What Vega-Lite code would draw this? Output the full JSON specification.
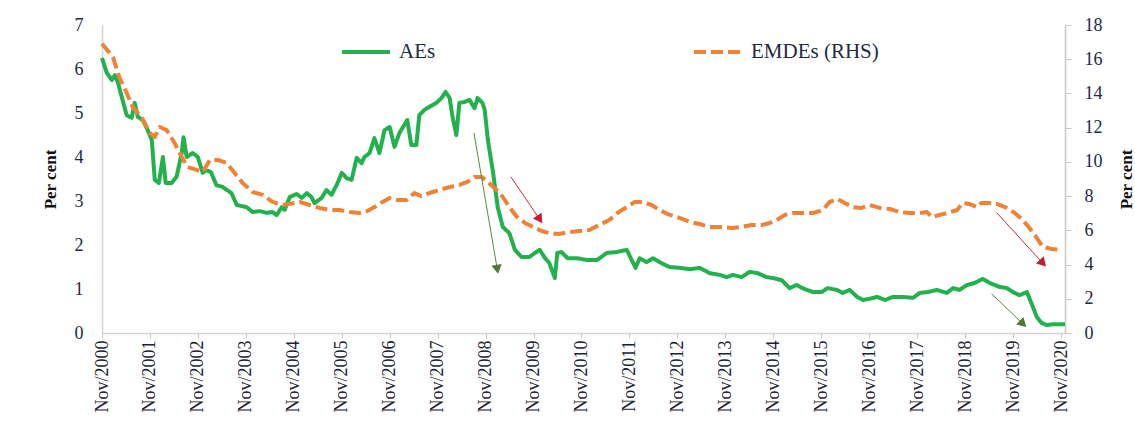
{
  "$schema": "https://vega.github.io/schema/vega-lite/v6.json",
  "autosize": {"type": "none"},
  "width": 963,
  "height": 308,
  "padding": {"left": 102, "top": 25, "right": 70, "bottom": 100},
  "background": "white",
  "config": {
    "font": "Liberation Serif",
    "view": {"stroke": null},
    "axis": {"grid": false, "labelFont": "Liberation Serif", "titleFont": "Liberation Serif", "labelColor": "#222a44", "titleColor": "#111111"}
  },
  "datasets": {
    "rates": [
      {"date": "2000-11-01", "series": "AEs", "value": 6.25},
      {"date": "2000-12-08", "series": "AEs", "value": 5.91},
      {"date": "2001-01-15", "series": "AEs", "value": 5.75},
      {"date": "2001-02-08", "series": "AEs", "value": 5.86},
      {"date": "2001-03-01", "series": "AEs", "value": 5.70},
      {"date": "2001-04-01", "series": "AEs", "value": 5.36},
      {"date": "2001-05-08", "series": "AEs", "value": 4.95},
      {"date": "2001-06-15", "series": "AEs", "value": 4.89},
      {"date": "2001-07-08", "series": "AEs", "value": 5.23},
      {"date": "2001-08-01", "series": "AEs", "value": 4.91},
      {"date": "2001-09-08", "series": "AEs", "value": 4.84},
      {"date": "2001-10-15", "series": "AEs", "value": 4.61},
      {"date": "2001-11-15", "series": "AEs", "value": 4.39},
      {"date": "2001-12-08", "series": "AEs", "value": 3.48},
      {"date": "2002-01-08", "series": "AEs", "value": 3.41},
      {"date": "2002-02-08", "series": "AEs", "value": 4.00},
      {"date": "2002-03-01", "series": "AEs", "value": 3.41},
      {"date": "2002-04-15", "series": "AEs", "value": 3.41},
      {"date": "2002-05-23", "series": "AEs", "value": 3.55},
      {"date": "2002-07-01", "series": "AEs", "value": 4.09},
      {"date": "2002-07-15", "series": "AEs", "value": 4.45},
      {"date": "2002-08-08", "series": "AEs", "value": 4.00},
      {"date": "2002-09-23", "series": "AEs", "value": 4.09},
      {"date": "2002-11-01", "series": "AEs", "value": 4.00},
      {"date": "2002-12-08", "series": "AEs", "value": 3.64},
      {"date": "2003-01-01", "series": "AEs", "value": 3.70},
      {"date": "2003-02-08", "series": "AEs", "value": 3.66},
      {"date": "2003-03-23", "series": "AEs", "value": 3.36},
      {"date": "2003-05-08", "series": "AEs", "value": 3.32},
      {"date": "2003-07-15", "series": "AEs", "value": 3.18},
      {"date": "2003-08-24", "series": "AEs", "value": 2.91},
      {"date": "2003-11-08", "series": "AEs", "value": 2.86},
      {"date": "2003-12-23", "series": "AEs", "value": 2.75},
      {"date": "2004-02-15", "series": "AEs", "value": 2.77},
      {"date": "2004-04-08", "series": "AEs", "value": 2.73},
      {"date": "2004-05-23", "series": "AEs", "value": 2.75},
      {"date": "2004-06-23", "series": "AEs", "value": 2.68},
      {"date": "2004-08-01", "series": "AEs", "value": 2.86},
      {"date": "2004-08-23", "series": "AEs", "value": 2.80},
      {"date": "2004-10-01", "series": "AEs", "value": 3.09},
      {"date": "2004-11-23", "series": "AEs", "value": 3.16},
      {"date": "2005-01-01", "series": "AEs", "value": 3.07},
      {"date": "2005-02-08", "series": "AEs", "value": 3.18},
      {"date": "2005-03-15", "series": "AEs", "value": 3.09},
      {"date": "2005-04-08", "series": "AEs", "value": 2.95},
      {"date": "2005-06-01", "series": "AEs", "value": 3.07},
      {"date": "2005-07-08", "series": "AEs", "value": 3.25},
      {"date": "2005-08-15", "series": "AEs", "value": 3.14},
      {"date": "2005-09-23", "series": "AEs", "value": 3.36},
      {"date": "2005-11-01", "series": "AEs", "value": 3.64},
      {"date": "2005-12-08", "series": "AEs", "value": 3.52},
      {"date": "2006-01-15", "series": "AEs", "value": 3.48},
      {"date": "2006-02-23", "series": "AEs", "value": 3.98},
      {"date": "2006-04-01", "series": "AEs", "value": 3.86},
      {"date": "2006-04-23", "series": "AEs", "value": 4.00},
      {"date": "2006-06-01", "series": "AEs", "value": 4.09},
      {"date": "2006-07-08", "series": "AEs", "value": 4.43},
      {"date": "2006-08-15", "series": "AEs", "value": 4.09},
      {"date": "2006-09-23", "series": "AEs", "value": 4.61},
      {"date": "2006-11-01", "series": "AEs", "value": 4.68},
      {"date": "2006-12-08", "series": "AEs", "value": 4.23},
      {"date": "2007-01-15", "series": "AEs", "value": 4.55},
      {"date": "2007-03-15", "series": "AEs", "value": 4.84},
      {"date": "2007-04-15", "series": "AEs", "value": 4.27},
      {"date": "2007-05-23", "series": "AEs", "value": 4.27},
      {"date": "2007-06-15", "series": "AEs", "value": 4.95},
      {"date": "2007-07-23", "series": "AEs", "value": 5.07},
      {"date": "2007-09-01", "series": "AEs", "value": 5.14},
      {"date": "2007-10-23", "series": "AEs", "value": 5.23},
      {"date": "2007-12-01", "series": "AEs", "value": 5.34},
      {"date": "2008-01-01", "series": "AEs", "value": 5.48},
      {"date": "2008-02-01", "series": "AEs", "value": 5.34},
      {"date": "2008-02-23", "series": "AEs", "value": 4.91},
      {"date": "2008-03-23", "series": "AEs", "value": 4.50},
      {"date": "2008-04-15", "series": "AEs", "value": 5.23},
      {"date": "2008-05-23", "series": "AEs", "value": 5.25},
      {"date": "2008-07-01", "series": "AEs", "value": 5.30},
      {"date": "2008-08-08", "series": "AEs", "value": 5.11},
      {"date": "2008-09-01", "series": "AEs", "value": 5.34},
      {"date": "2008-10-08", "series": "AEs", "value": 5.23},
      {"date": "2008-10-25", "series": "AEs", "value": 5.07},
      {"date": "2008-11-18", "series": "AEs", "value": 4.39},
      {"date": "2008-12-28", "series": "AEs", "value": 3.64},
      {"date": "2009-02-01", "series": "AEs", "value": 2.86},
      {"date": "2009-03-12", "series": "AEs", "value": 2.41},
      {"date": "2009-05-01", "series": "AEs", "value": 2.27},
      {"date": "2009-06-12", "series": "AEs", "value": 1.89},
      {"date": "2009-08-01", "series": "AEs", "value": 1.73},
      {"date": "2009-10-01", "series": "AEs", "value": 1.73},
      {"date": "2009-11-12", "series": "AEs", "value": 1.82},
      {"date": "2009-12-18", "series": "AEs", "value": 1.89},
      {"date": "2010-01-28", "series": "AEs", "value": 1.70},
      {"date": "2010-03-01", "series": "AEs", "value": 1.59},
      {"date": "2010-04-12", "series": "AEs", "value": 1.25},
      {"date": "2010-05-01", "series": "AEs", "value": 1.82},
      {"date": "2010-06-01", "series": "AEs", "value": 1.84},
      {"date": "2010-07-18", "series": "AEs", "value": 1.70},
      {"date": "2010-09-28", "series": "AEs", "value": 1.70},
      {"date": "2010-12-12", "series": "AEs", "value": 1.66},
      {"date": "2011-03-01", "series": "AEs", "value": 1.66},
      {"date": "2011-05-12", "series": "AEs", "value": 1.82},
      {"date": "2011-07-28", "series": "AEs", "value": 1.84},
      {"date": "2011-10-12", "series": "AEs", "value": 1.89},
      {"date": "2011-11-18", "series": "AEs", "value": 1.66},
      {"date": "2011-12-18", "series": "AEs", "value": 1.48},
      {"date": "2012-01-18", "series": "AEs", "value": 1.70},
      {"date": "2012-03-12", "series": "AEs", "value": 1.61},
      {"date": "2012-04-28", "series": "AEs", "value": 1.70},
      {"date": "2012-07-01", "series": "AEs", "value": 1.59},
      {"date": "2012-09-01", "series": "AEs", "value": 1.50},
      {"date": "2012-11-20", "series": "AEs", "value": 1.48},
      {"date": "2013-02-05", "series": "AEs", "value": 1.45},
      {"date": "2013-04-20", "series": "AEs", "value": 1.48},
      {"date": "2013-07-05", "series": "AEs", "value": 1.36},
      {"date": "2013-09-20", "series": "AEs", "value": 1.32},
      {"date": "2013-11-12", "series": "AEs", "value": 1.27},
      {"date": "2013-12-28", "series": "AEs", "value": 1.32},
      {"date": "2014-03-05", "series": "AEs", "value": 1.27},
      {"date": "2014-05-05", "series": "AEs", "value": 1.39},
      {"date": "2014-07-05", "series": "AEs", "value": 1.36},
      {"date": "2014-09-12", "series": "AEs", "value": 1.27},
      {"date": "2014-10-28", "series": "AEs", "value": 1.25},
      {"date": "2015-01-05", "series": "AEs", "value": 1.20},
      {"date": "2015-03-05", "series": "AEs", "value": 1.02},
      {"date": "2015-04-28", "series": "AEs", "value": 1.09},
      {"date": "2015-06-12", "series": "AEs", "value": 1.02},
      {"date": "2015-08-28", "series": "AEs", "value": 0.93},
      {"date": "2015-11-05", "series": "AEs", "value": 0.93},
      {"date": "2015-12-20", "series": "AEs", "value": 1.02},
      {"date": "2016-02-28", "series": "AEs", "value": 0.98},
      {"date": "2016-04-12", "series": "AEs", "value": 0.91},
      {"date": "2016-06-05", "series": "AEs", "value": 0.98},
      {"date": "2016-08-01", "series": "AEs", "value": 0.82},
      {"date": "2016-09-15", "series": "AEs", "value": 0.75},
      {"date": "2016-11-05", "series": "AEs", "value": 0.78},
      {"date": "2017-01-01", "series": "AEs", "value": 0.82},
      {"date": "2017-03-01", "series": "AEs", "value": 0.75},
      {"date": "2017-05-01", "series": "AEs", "value": 0.82},
      {"date": "2017-07-15", "series": "AEs", "value": 0.82},
      {"date": "2017-10-01", "series": "AEs", "value": 0.80},
      {"date": "2017-11-20", "series": "AEs", "value": 0.91},
      {"date": "2018-01-20", "series": "AEs", "value": 0.93},
      {"date": "2018-04-01", "series": "AEs", "value": 0.98},
      {"date": "2018-06-15", "series": "AEs", "value": 0.91},
      {"date": "2018-08-01", "series": "AEs", "value": 1.02},
      {"date": "2018-09-20", "series": "AEs", "value": 0.98},
      {"date": "2018-11-15", "series": "AEs", "value": 1.09},
      {"date": "2019-01-15", "series": "AEs", "value": 1.14},
      {"date": "2019-03-15", "series": "AEs", "value": 1.23},
      {"date": "2019-05-05", "series": "AEs", "value": 1.14},
      {"date": "2019-07-20", "series": "AEs", "value": 1.05},
      {"date": "2019-09-15", "series": "AEs", "value": 1.02},
      {"date": "2019-11-01", "series": "AEs", "value": 0.93},
      {"date": "2019-12-20", "series": "AEs", "value": 0.86},
      {"date": "2020-02-15", "series": "AEs", "value": 0.93},
      {"date": "2020-03-20", "series": "AEs", "value": 0.68},
      {"date": "2020-05-01", "series": "AEs", "value": 0.36},
      {"date": "2020-06-05", "series": "AEs", "value": 0.23},
      {"date": "2020-07-15", "series": "AEs", "value": 0.18},
      {"date": "2020-09-01", "series": "AEs", "value": 0.20},
      {"date": "2020-12-01", "series": "AEs", "value": 0.20},
      {"date": "2000-11-01", "series": "EMDEs (RHS)", "value": 16.9},
      {"date": "2001-01-23", "series": "EMDEs (RHS)", "value": 16.13},
      {"date": "2001-03-15", "series": "EMDEs (RHS)", "value": 14.9},
      {"date": "2001-05-08", "series": "EMDEs (RHS)", "value": 14.03},
      {"date": "2001-06-23", "series": "EMDEs (RHS)", "value": 13.2},
      {"date": "2001-09-01", "series": "EMDEs (RHS)", "value": 12.57},
      {"date": "2001-11-01", "series": "EMDEs (RHS)", "value": 11.69},
      {"date": "2001-12-08", "series": "EMDEs (RHS)", "value": 11.46},
      {"date": "2002-01-15", "series": "EMDEs (RHS)", "value": 12.04},
      {"date": "2002-03-08", "series": "EMDEs (RHS)", "value": 11.86},
      {"date": "2002-05-08", "series": "EMDEs (RHS)", "value": 11.1},
      {"date": "2002-07-01", "series": "EMDEs (RHS)", "value": 10.29},
      {"date": "2002-08-15", "series": "EMDEs (RHS)", "value": 9.7},
      {"date": "2002-10-23", "series": "EMDEs (RHS)", "value": 9.53},
      {"date": "2002-12-08", "series": "EMDEs (RHS)", "value": 9.41},
      {"date": "2003-02-01", "series": "EMDEs (RHS)", "value": 10.11},
      {"date": "2003-04-01", "series": "EMDEs (RHS)", "value": 10.11},
      {"date": "2003-06-08", "series": "EMDEs (RHS)", "value": 9.94},
      {"date": "2003-08-08", "series": "EMDEs (RHS)", "value": 9.35},
      {"date": "2003-10-08", "series": "EMDEs (RHS)", "value": 8.77},
      {"date": "2003-12-23", "series": "EMDEs (RHS)", "value": 8.24},
      {"date": "2004-03-08", "series": "EMDEs (RHS)", "value": 8.07},
      {"date": "2004-05-23", "series": "EMDEs (RHS)", "value": 7.66},
      {"date": "2004-08-08", "series": "EMDEs (RHS)", "value": 7.48},
      {"date": "2004-10-01", "series": "EMDEs (RHS)", "value": 7.55},
      {"date": "2004-12-15", "series": "EMDEs (RHS)", "value": 7.66},
      {"date": "2005-03-01", "series": "EMDEs (RHS)", "value": 7.48},
      {"date": "2005-05-15", "series": "EMDEs (RHS)", "value": 7.31},
      {"date": "2005-08-01", "series": "EMDEs (RHS)", "value": 7.19},
      {"date": "2005-10-15", "series": "EMDEs (RHS)", "value": 7.19},
      {"date": "2006-01-01", "series": "EMDEs (RHS)", "value": 7.07},
      {"date": "2006-03-15", "series": "EMDEs (RHS)", "value": 7.01},
      {"date": "2006-05-15", "series": "EMDEs (RHS)", "value": 7.13},
      {"date": "2006-07-08", "series": "EMDEs (RHS)", "value": 7.36},
      {"date": "2006-09-08", "series": "EMDEs (RHS)", "value": 7.66},
      {"date": "2006-11-01", "series": "EMDEs (RHS)", "value": 7.89},
      {"date": "2007-01-01", "series": "EMDEs (RHS)", "value": 7.77},
      {"date": "2007-03-08", "series": "EMDEs (RHS)", "value": 7.77},
      {"date": "2007-05-08", "series": "EMDEs (RHS)", "value": 8.18},
      {"date": "2007-07-01", "series": "EMDEs (RHS)", "value": 8.0},
      {"date": "2007-09-01", "series": "EMDEs (RHS)", "value": 8.18},
      {"date": "2007-11-15", "series": "EMDEs (RHS)", "value": 8.36},
      {"date": "2008-02-01", "series": "EMDEs (RHS)", "value": 8.53},
      {"date": "2008-04-15", "series": "EMDEs (RHS)", "value": 8.65},
      {"date": "2008-06-15", "series": "EMDEs (RHS)", "value": 8.83},
      {"date": "2008-08-08", "series": "EMDEs (RHS)", "value": 9.12},
      {"date": "2008-10-01", "series": "EMDEs (RHS)", "value": 9.12},
      {"date": "2008-11-15", "series": "EMDEs (RHS)", "value": 8.85},
      {"date": "2009-01-23", "series": "EMDEs (RHS)", "value": 8.36},
      {"date": "2009-03-12", "series": "EMDEs (RHS)", "value": 7.95},
      {"date": "2009-05-01", "series": "EMDEs (RHS)", "value": 7.36},
      {"date": "2009-06-28", "series": "EMDEs (RHS)", "value": 6.78},
      {"date": "2009-08-28", "series": "EMDEs (RHS)", "value": 6.43},
      {"date": "2009-10-28", "series": "EMDEs (RHS)", "value": 6.2},
      {"date": "2010-01-01", "series": "EMDEs (RHS)", "value": 5.96},
      {"date": "2010-03-01", "series": "EMDEs (RHS)", "value": 5.84},
      {"date": "2010-05-15", "series": "EMDEs (RHS)", "value": 5.79},
      {"date": "2010-08-01", "series": "EMDEs (RHS)", "value": 5.9},
      {"date": "2010-10-15", "series": "EMDEs (RHS)", "value": 5.96},
      {"date": "2011-01-01", "series": "EMDEs (RHS)", "value": 6.02},
      {"date": "2011-03-15", "series": "EMDEs (RHS)", "value": 6.31},
      {"date": "2011-06-01", "series": "EMDEs (RHS)", "value": 6.6},
      {"date": "2011-08-01", "series": "EMDEs (RHS)", "value": 7.01},
      {"date": "2011-10-12", "series": "EMDEs (RHS)", "value": 7.36},
      {"date": "2011-12-12", "series": "EMDEs (RHS)", "value": 7.66},
      {"date": "2012-02-12", "series": "EMDEs (RHS)", "value": 7.66},
      {"date": "2012-04-18", "series": "EMDEs (RHS)", "value": 7.48},
      {"date": "2012-06-18", "series": "EMDEs (RHS)", "value": 7.19},
      {"date": "2012-08-18", "series": "EMDEs (RHS)", "value": 6.95},
      {"date": "2012-10-28", "series": "EMDEs (RHS)", "value": 6.78},
      {"date": "2013-02-05", "series": "EMDEs (RHS)", "value": 6.49},
      {"date": "2013-04-20", "series": "EMDEs (RHS)", "value": 6.37},
      {"date": "2013-07-05", "series": "EMDEs (RHS)", "value": 6.2},
      {"date": "2013-09-20", "series": "EMDEs (RHS)", "value": 6.2},
      {"date": "2013-12-20", "series": "EMDEs (RHS)", "value": 6.14},
      {"date": "2014-03-05", "series": "EMDEs (RHS)", "value": 6.2},
      {"date": "2014-05-20", "series": "EMDEs (RHS)", "value": 6.31},
      {"date": "2014-08-05", "series": "EMDEs (RHS)", "value": 6.31},
      {"date": "2014-10-05", "series": "EMDEs (RHS)", "value": 6.43},
      {"date": "2014-11-28", "series": "EMDEs (RHS)", "value": 6.6},
      {"date": "2015-01-28", "series": "EMDEs (RHS)", "value": 6.9},
      {"date": "2015-03-28", "series": "EMDEs (RHS)", "value": 7.01},
      {"date": "2015-06-12", "series": "EMDEs (RHS)", "value": 7.01},
      {"date": "2015-08-28", "series": "EMDEs (RHS)", "value": 7.01},
      {"date": "2015-11-12", "series": "EMDEs (RHS)", "value": 7.19},
      {"date": "2016-01-05", "series": "EMDEs (RHS)", "value": 7.66},
      {"date": "2016-03-05", "series": "EMDEs (RHS)", "value": 7.83},
      {"date": "2016-04-28", "series": "EMDEs (RHS)", "value": 7.6},
      {"date": "2016-06-28", "series": "EMDEs (RHS)", "value": 7.36},
      {"date": "2016-09-05", "series": "EMDEs (RHS)", "value": 7.31},
      {"date": "2016-11-05", "series": "EMDEs (RHS)", "value": 7.48},
      {"date": "2017-01-20", "series": "EMDEs (RHS)", "value": 7.31},
      {"date": "2017-04-05", "series": "EMDEs (RHS)", "value": 7.25},
      {"date": "2017-06-20", "series": "EMDEs (RHS)", "value": 7.07},
      {"date": "2017-09-05", "series": "EMDEs (RHS)", "value": 7.01},
      {"date": "2017-11-20", "series": "EMDEs (RHS)", "value": 7.01},
      {"date": "2018-01-15", "series": "EMDEs (RHS)", "value": 7.07},
      {"date": "2018-02-20", "series": "EMDEs (RHS)", "value": 6.78},
      {"date": "2018-04-20", "series": "EMDEs (RHS)", "value": 6.9},
      {"date": "2018-06-20", "series": "EMDEs (RHS)", "value": 7.01},
      {"date": "2018-09-01", "series": "EMDEs (RHS)", "value": 7.19},
      {"date": "2018-10-15", "series": "EMDEs (RHS)", "value": 7.6},
      {"date": "2018-12-05", "series": "EMDEs (RHS)", "value": 7.54},
      {"date": "2019-02-01", "series": "EMDEs (RHS)", "value": 7.36},
      {"date": "2019-03-05", "series": "EMDEs (RHS)", "value": 7.6},
      {"date": "2019-05-05", "series": "EMDEs (RHS)", "value": 7.6},
      {"date": "2019-07-01", "series": "EMDEs (RHS)", "value": 7.54},
      {"date": "2019-09-15", "series": "EMDEs (RHS)", "value": 7.31},
      {"date": "2019-11-15", "series": "EMDEs (RHS)", "value": 7.01},
      {"date": "2020-01-15", "series": "EMDEs (RHS)", "value": 6.6},
      {"date": "2020-03-05", "series": "EMDEs (RHS)", "value": 6.14},
      {"date": "2020-05-01", "series": "EMDEs (RHS)", "value": 5.55},
      {"date": "2020-06-15", "series": "EMDEs (RHS)", "value": 5.03},
      {"date": "2020-08-23", "series": "EMDEs (RHS)", "value": 4.91},
      {"date": "2020-11-08", "series": "EMDEs (RHS)", "value": 4.85}
    ],
    "arrows": [
      {"id": "g2008", "group": "green", "start": "2008-08-04", "from": 4.55, "end": "2009-01-27", "to": 1.48},
      {"id": "r2008", "group": "red", "start": "2009-05-12", "from": 3.55, "end": "2009-12-12", "to": 2.61},
      {"id": "r2019", "group": "red", "start": "2019-07-01", "from": 2.73, "end": "2020-06-08", "to": 1.61},
      {"id": "g2019", "group": "green", "start": "2019-05-22", "from": 0.89, "end": "2020-01-08", "to": 0.23}
    ]
  },
  "data": {"name": "rates"},
  "encoding": {
    "x": {
      "field": "date",
      "type": "temporal",
      "scale": {"type": "utc", "domain": [{"year": 2000, "month": 11, "date": 1, "utc": true}, {"year": 2020, "month": 12, "date": 1, "utc": true}]},
      "axis": {
        "title": null,
        "format": "%b/%Y",
        "values": [
          {"year": 2000, "month": 11, "date": 1, "utc": true},
          {"year": 2001, "month": 11, "date": 1, "utc": true},
          {"year": 2002, "month": 11, "date": 1, "utc": true},
          {"year": 2003, "month": 11, "date": 1, "utc": true},
          {"year": 2004, "month": 11, "date": 1, "utc": true},
          {"year": 2005, "month": 11, "date": 1, "utc": true},
          {"year": 2006, "month": 11, "date": 1, "utc": true},
          {"year": 2007, "month": 11, "date": 1, "utc": true},
          {"year": 2008, "month": 11, "date": 1, "utc": true},
          {"year": 2009, "month": 11, "date": 1, "utc": true},
          {"year": 2010, "month": 11, "date": 1, "utc": true},
          {"year": 2011, "month": 11, "date": 1, "utc": true},
          {"year": 2012, "month": 11, "date": 1, "utc": true},
          {"year": 2013, "month": 11, "date": 1, "utc": true},
          {"year": 2014, "month": 11, "date": 1, "utc": true},
          {"year": 2015, "month": 11, "date": 1, "utc": true},
          {"year": 2016, "month": 11, "date": 1, "utc": true},
          {"year": 2017, "month": 11, "date": 1, "utc": true},
          {"year": 2018, "month": 11, "date": 1, "utc": true},
          {"year": 2019, "month": 11, "date": 1, "utc": true},
          {"year": 2020, "month": 11, "date": 1, "utc": true}
        ],
        "labelAngle": 270,
        "labelFontSize": 18,
        "labelColor": "#1e2235",
        "labelPadding": 2,
        "labelOverlap": false,
        "labelFlush": false,
        "ticks": true,
        "tickSize": 5,
        "tickColor": "#c8c8c8",
        "domainColor": "#d4d4d4",
        "domainWidth": 1.5
      }
    }
  },
  "layer": [
    {
      "transform": [{"filter": "datum.series === 'AEs'"}],
      "mark": {"type": "line", "strokeWidth": 4, "strokeJoin": "round"},
      "encoding": {
        "y": {
          "field": "value",
          "type": "quantitative",
          "scale": {"domain": [0, 7], "nice": false, "zero": true},
          "axis": {
            "orient": "left",
            "values": [0, 1, 2, 3, 4, 5, 6, 7],
            "ticks": false,
            "labelPadding": 19,
            "labelFontSize": 18,
            "domainColor": "#d4d4d4",
            "domainWidth": 1.5,
            "title": "Per cent",
            "titleFontSize": 17,
            "titleFontWeight": "bold",
            "titlePadding": 15
          }
        },
        "color": {
          "field": "series",
          "type": "nominal",
          "scale": {"domain": ["AEs", "EMDEs (RHS)"], "range": ["#22b14c", "#ef8236"]},
          "legend": {"orient": "none", "legendX": 238, "legendY": 1, "direction": "horizontal", "title": null, "symbolType": "stroke", "symbolSize": 2300, "symbolStrokeWidth": 4, "labelFontSize": 21, "labelFont": "Liberation Serif", "labelColor": "#1f2a44", "columnPadding": 250, "labelOffset": 7, "padding": 0}
        },
        "strokeDash": {
          "field": "series",
          "type": "nominal",
          "scale": {"domain": ["AEs", "EMDEs (RHS)"], "range": [[1, 0], [12, 5]]},
          "legend": {"orient": "none", "legendX": 238, "legendY": 1, "direction": "horizontal", "title": null, "symbolType": "stroke", "symbolSize": 2300, "symbolStrokeWidth": 4, "labelFontSize": 21, "labelFont": "Liberation Serif", "labelColor": "#1f2a44", "columnPadding": 250, "labelOffset": 7, "padding": 0}
        }
      }
    },
    {
      "transform": [{"filter": "datum.series === 'EMDEs (RHS)'"}],
      "mark": {"type": "line", "strokeWidth": 4, "strokeJoin": "round"},
      "encoding": {
        "y": {
          "field": "value",
          "type": "quantitative",
          "scale": {"domain": [0, 18], "nice": false, "zero": true},
          "axis": {
            "orient": "right",
            "values": [0, 2, 4, 6, 8, 10, 12, 14, 16, 18],
            "ticks": true,
            "tickSize": 6,
            "tickColor": "#c8c8c8",
            "labelPadding": 13,
            "labelFontSize": 18,
            "domainColor": "#c8c8c8",
            "domainWidth": 1.5,
            "title": "Per cent",
            "titleAngle": 270,
            "titleFontSize": 17,
            "titleFontWeight": "bold",
            "titlePadding": 33
          }
        },
        "color": {"field": "series", "type": "nominal"},
        "strokeDash": {"field": "series", "type": "nominal"}
      }
    },
    {
      "data": {"name": "arrows"},
      "transform": [{"filter": "datum.group === 'green'"}],
      "mark": {"type": "rule", "color": "#5b8a3c", "strokeWidth": 1},
      "encoding": {
        "x": {"field": "start", "type": "temporal"},
        "x2": {"field": "end"},
        "y": {"field": "from", "type": "quantitative", "scale": {"domain": [0, 7], "nice": false}, "axis": null},
        "y2": {"field": "to"}
      }
    },
    {
      "data": {"name": "arrows"},
      "transform": [{"filter": "datum.group === 'red'"}],
      "mark": {"type": "rule", "color": "#c8283a", "strokeWidth": 1},
      "encoding": {
        "x": {"field": "start", "type": "temporal"},
        "x2": {"field": "end"},
        "y": {"field": "from", "type": "quantitative", "scale": {"domain": [0, 7], "nice": false}, "axis": null},
        "y2": {"field": "to"}
      }
    },
    {
      "data": {"name": "arrows"},
      "transform": [{"filter": "datum.id === 'g2008'"}],
      "mark": {"type": "point", "shape": "triangle", "filled": true, "size": 110, "angle": 170, "color": "#4f7a33", "opacity": 1},
      "encoding": {
        "x": {"field": "end", "type": "temporal"},
        "y": {"field": "to", "type": "quantitative", "scale": {"domain": [0, 7], "nice": false}, "axis": null}
      }
    },
    {
      "data": {"name": "arrows"},
      "transform": [{"filter": "datum.id === 'r2008'"}],
      "mark": {"type": "point", "shape": "triangle", "filled": true, "size": 110, "angle": 146, "color": "#c41e30", "opacity": 1},
      "encoding": {
        "x": {"field": "end", "type": "temporal"},
        "y": {"field": "to", "type": "quantitative", "scale": {"domain": [0, 7], "nice": false}, "axis": null}
      }
    },
    {
      "data": {"name": "arrows"},
      "transform": [{"filter": "datum.id === 'r2019'"}],
      "mark": {"type": "point", "shape": "triangle", "filled": true, "size": 110, "angle": 137, "color": "#c41e30", "opacity": 1},
      "encoding": {
        "x": {"field": "end", "type": "temporal"},
        "y": {"field": "to", "type": "quantitative", "scale": {"domain": [0, 7], "nice": false}, "axis": null}
      }
    },
    {
      "data": {"name": "arrows"},
      "transform": [{"filter": "datum.id === 'g2019'"}],
      "mark": {"type": "point", "shape": "triangle", "filled": true, "size": 110, "angle": 134, "color": "#4f7a33", "opacity": 1},
      "encoding": {
        "x": {"field": "end", "type": "temporal"},
        "y": {"field": "to", "type": "quantitative", "scale": {"domain": [0, 7], "nice": false}, "axis": null}
      }
    }
  ],
  "resolve": {"scale": {"y": "independent"}}
}
